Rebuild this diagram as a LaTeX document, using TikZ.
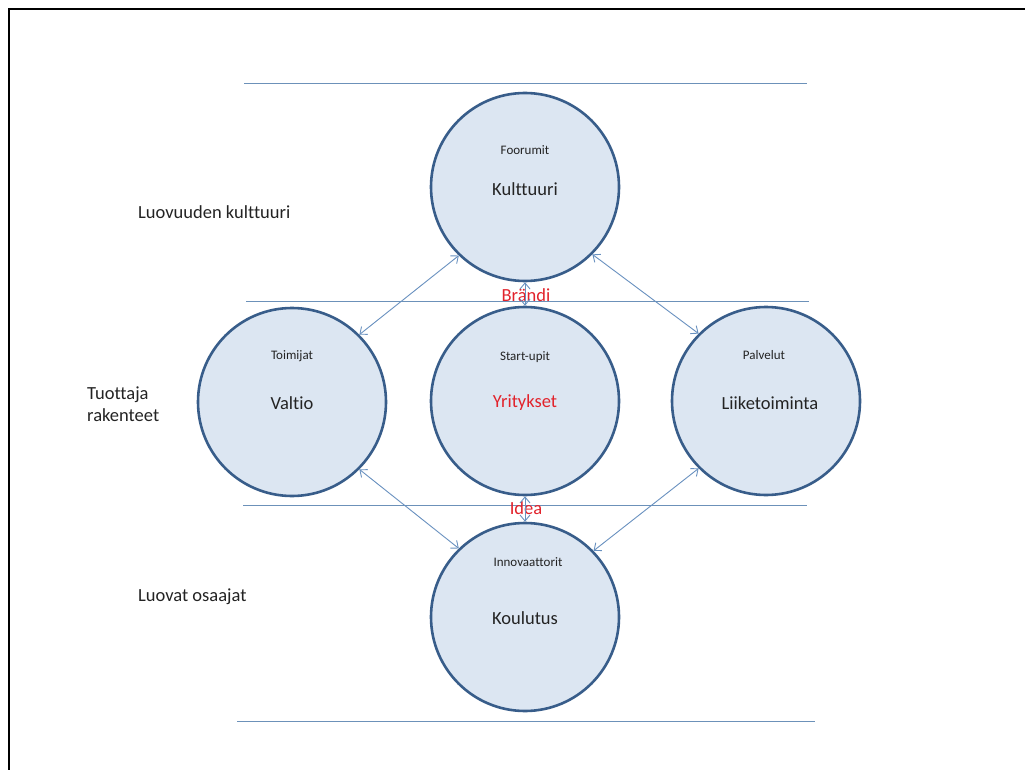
\documentclass[tikz,border=0pt]{standalone}
\usepackage{fontspec}
\setmainfont{Carlito}[Ligatures={NoCommon}]
\usetikzlibrary{arrows.meta}
\definecolor{circfill}{RGB}{220,230,242}
\definecolor{circdraw}{RGB}{56,93,138}
\definecolor{guide}{RGB}{108,145,185}
\definecolor{arrowc}{RGB}{105,145,192}
\definecolor{redtext}{RGB}{226,34,43}
\definecolor{darktext}{RGB}{35,35,35}
\tikzset{
  bubble/.style={circle, draw=circdraw, fill=circfill, line width=2.6pt, minimum size=188pt, inner sep=0pt},
  guideline/.style={draw=guide, line width=1pt},
  smalltxt/.style={font=\fontsize{13}{15}\selectfont, text=darktext, inner sep=0pt},
  bigtxt/.style={font=\fontsize{18.5}{22}\selectfont, text=darktext, inner sep=0pt},
  redtxt/.style={font=\fontsize{18.5}{22}\selectfont, text=redtext, inner sep=0pt},
  sidetxt/.style={font=\fontsize{18.5}{22}\selectfont, text=darktext, inner sep=0pt, anchor=west, align=left},
  link/.style={draw=arrowc, line width=0.9pt, {Straight Barb[length=6pt,width=10pt]}-{Straight Barb[length=6pt,width=10pt]}},
  frameline/.style={draw=black, line width=2.5pt}
}
\begin{document}
\begin{tikzpicture}[x=1pt,y=-1pt]
\useasboundingbox (0,0) rectangle (1025,770);
\fill[white] (0,0) rectangle (1025,770);
% frame
\coordinate (fa) at (9,770);
\coordinate (fb) at (9,9);
\coordinate (fc) at (1025,9);
\draw[frameline] (fa) -- (fb) -- (fc);
% guide lines
\coordinate (g1a) at (244,84);  \coordinate (g1b) at (807,84);
\coordinate (g2a) at (246,301); \coordinate (g2b) at (809,301);
\coordinate (g3a) at (243,505); \coordinate (g3b) at (807,505);
\coordinate (g4a) at (237,721); \coordinate (g4b) at (815,721);
\draw[guideline] (g1a) -- (g1b);
\draw[guideline] (g2a) -- (g2b);
\draw[guideline] (g3a) -- (g3b);
\draw[guideline] (g4a) -- (g4b);
% circles
\node[bubble] (K) at (525,187) {};
\node[bubble] (Y) at (525,401) {};
\node[bubble] (V) at (292,402) {};
\node[bubble] (L) at (766,401) {};
\node[bubble] (Ko) at (525,617) {};
% circle texts
\node[smalltxt] (Kt) at (525,150) {Foorumit};
\node[bigtxt] (Km) at (525,189) {Kulttuuri};
\node[smalltxt] (Yt) at (525,357) {Start-upit};
\node[redtxt] (Ym) at (525,403) {Yritykset};
\node[smalltxt] (Vt) at (292,356) {Toimijat};
\node[bigtxt] (Vm) at (292,403) {Valtio};
\node[smalltxt] (Lt) at (764,355) {Palvelut};
\node[bigtxt] (Lm) at (770,403) {Liiketoiminta};
\node[smalltxt] (Kot) at (528,562) {Innovaattorit};
\node[bigtxt] (Kom) at (525,618) {Koulutus};
% red link labels
\node[redtxt] (br) at (526,295) {Brändi};
\node[redtxt] (id) at (526,508) {Idea};
% side labels
\node[sidetxt] (s1) at (138,212) {Luovuuden kulttuuri};
\node[sidetxt] (s2) at (87,404) {Tuottaja\\rakenteet};
\node[sidetxt] (s3) at (138,597) {Luovat osaajat};
% connectors
\draw[link] (K.226) -- (V.45);
\draw[link] (K.-45) -- (L.135);
\draw[link] (V.-45) -- (Ko.134);
\draw[link] (L.225) -- (Ko.44);
\draw[link] (K.south) -- (Y.north);
\draw[link] (Y.south) -- (Ko.north);
\end{tikzpicture}
\end{document}
